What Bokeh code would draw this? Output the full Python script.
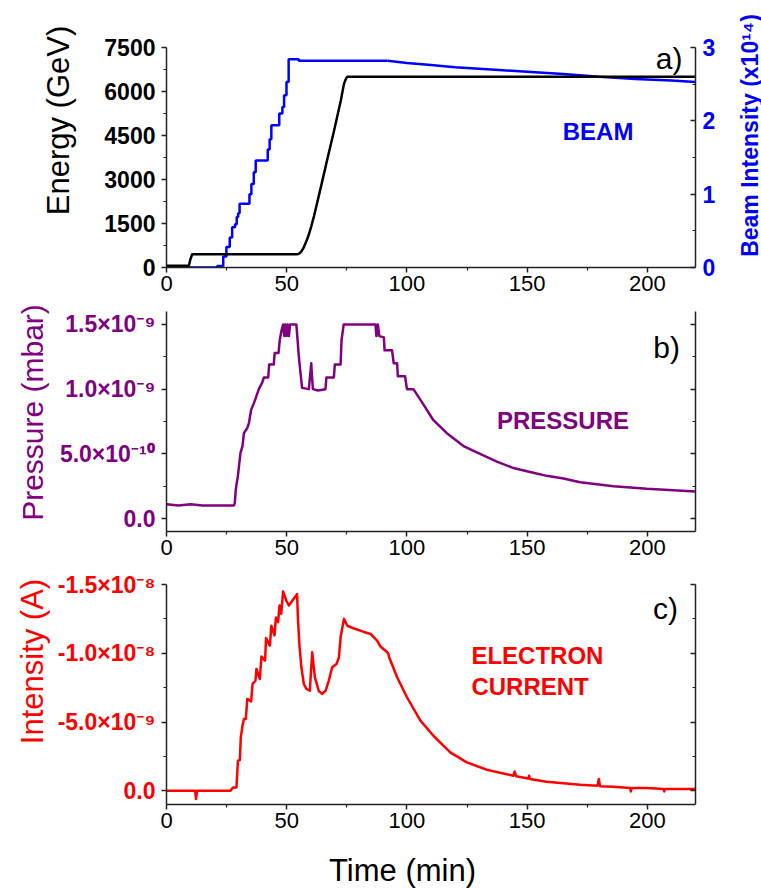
import math
from bokeh.plotting import figure
from bokeh.models import Range1d, LinearAxis, FixedTicker, CustomJSTickFormatter
from bokeh.layouts import column, row
from bokeh.embed import file_html
from bokeh.resources import INLINE
from bokeh.core.properties import value

# ---------------- data ----------------
time_ticks = [0, 50, 100, 150, 200]
time_minor = [25, 75, 125, 175]
time_tick_labels = ["0", "50", "100", "150", "200"]

energy_ticks = [0, 1500, 3000, 4500, 6000, 7500]
energy_minor = [750, 2250, 3750, 5250, 6750]
energy_tick_labels = ["0", "1500", "3000", "4500", "6000", "7500"]

beam_ticks = [0, 1, 2, 3]
beam_minor = [0.5, 1.5, 2.5]
beam_tick_labels = ["0", "1", "2", "3"]

# pressure in units of 1e-9 mbar
pressure_ticks = [0, 0.5, 1.0, 1.5]
pressure_minor = [0.25, 0.75, 1.25]
pressure_tick_labels = ["0.0", "5.0×10⁻¹⁰", "1.0×10⁻⁹", "1.5×10⁻⁹"]

# electron current in units of 1e-9 A
current_ticks = [0, -5, -10, -15]
current_minor = [-2.5, -7.5, -12.5]
current_tick_labels = ["0.0", "-5.0×10⁻⁹", "-1.0×10⁻⁸", "-1.5×10⁻⁸"]

# beam energy (GeV)
energy_t = [0, 9.3, 10.0, 10.7, 54.3, 55.3, 56.2, 57.1, 58.2, 59.3, 60.3, 61.4,
            64.2, 66.9, 69.7, 72.5, 73.8, 74.6, 75.2, 220]
energy_gev = [60, 60, 300, 450, 450, 480, 560, 690, 900, 1150, 1430, 1770,
              2740, 3700, 4670, 5690, 6260, 6430, 6500, 6500]

# beam intensity (x1e14) - injection staircase (value holds after each time)
beam_step_t = [0, 21.1, 23.6, 24.9, 26.3, 27.3, 28.5, 29.2, 29.8, 30.4, 34.5, 35.3,
               36.3, 37.1, 42.1, 42.9, 43.6, 46.9, 48.2, 48.9, 49.9, 50.8, 55.0, 92.0]
beam_step_i = [0.0, 0.02, 0.15, 0.28, 0.41, 0.55, 0.59, 0.69, 0.74, 0.87, 1.00, 1.14,
               1.30, 1.46, 1.61, 1.75, 1.94, 2.10, 2.19, 2.35, 2.53, 2.84, 2.82, 2.82]
# beam intensity (x1e14) - decay at flat top
beam_decay_t = [92, 100, 110, 120, 135, 150, 165, 180, 195, 210, 220]
beam_decay_i = [2.82, 2.79, 2.76, 2.73, 2.70, 2.67, 2.64, 2.60, 2.57, 2.55, 2.53]

pressure_t = [0, 5, 10, 15, 20, 28.0, 28.4, 28.8, 29.1, 29.7, 30.3, 30.8, 31.6, 32.2,
              33.6, 34.3, 35.2, 36.3, 37.1, 38.4, 39.8, 40.5, 42.3, 42.7, 44.6, 45.0,
              46.6, 47.1, 47.8, 48.5, 49.0, 49.4, 49.9, 50.4, 50.9, 51.4, 54.0, 54.6,
              55.0, 55.7, 56.4, 59.2, 59.7, 60.2, 60.5, 60.9, 63.0, 66.1, 66.5, 69.6,
              70.0, 72.4, 72.8, 73.7, 86.9, 87.3, 87.9, 88.5, 90.4, 90.7, 93.8, 94.5,
              95.9, 96.2, 99.2, 100.0, 102.7, 106.9, 111.0, 116.6, 123.5, 130.4, 137.4,
              144.3, 151.2, 158.1, 165.1, 172.0, 185.9, 199.8, 220]
pressure_e9 = [0.11, 0.10, 0.11, 0.10, 0.10, 0.10, 0.12, 0.22, 0.26, 0.33, 0.43, 0.51, 0.56, 0.66,
               0.70, 0.74, 0.84, 0.89, 0.93, 1.00, 1.05, 1.09, 1.09, 1.19, 1.19, 1.28,
               1.28, 1.38, 1.45, 1.50, 1.41, 1.50, 1.41, 1.50, 1.41, 1.50, 1.50, 1.36,
               1.26, 1.13, 1.01, 1.00, 1.10, 1.20, 1.10, 1.00, 0.99, 1.00, 1.09, 1.09,
               1.19, 1.19, 1.38, 1.50, 1.50, 1.41, 1.50, 1.41, 1.40, 1.30, 1.30, 1.20,
               1.20, 1.10, 1.10, 1.00, 1.00, 0.88, 0.76, 0.66, 0.56, 0.50, 0.44,
               0.39, 0.36, 0.33, 0.31, 0.28, 0.25, 0.23, 0.21]

current_t = [0, 11.9, 12.3, 12.7, 26.6, 27.3, 28.0, 29.1, 29.7, 30.5, 30.9, 31.6, 32.2,
             33.0, 33.6, 35.2, 35.8, 37.0, 37.4, 38.8, 39.5, 41.0, 41.4, 43.0, 43.6,
             44.9, 45.5, 46.4, 47.0, 47.7, 48.5, 49.9, 50.9, 52.9, 54.3, 54.7, 55.3,
             56.1, 57.1, 58.2, 59.6, 60.6, 61.7, 63.4, 64.8, 66.2, 67.5, 68.9, 70.7,
             71.7, 72.4, 73.8, 75.2, 78.0, 82.1, 84.9, 87.6, 89.0, 91.8, 92.3, 92.6,
             95.9, 100.0, 105.6, 111.0, 118.0, 124.9, 133.2, 144.3, 144.8, 145.4,
             150.5, 150.8, 151.2, 158.1, 172.0, 179.2, 179.8, 180.3, 185.9, 192.8,
             193.1, 193.5, 199.8, 206.7, 207.0, 207.3, 220]
current_e9 = [0, 0, 0.6, 0, 0, -0.17, -0.24, -0.24, -2.18, -2.23, -3.88, -4.73, -5.22,
              -5.22, -6.68, -6.5, -7.77, -8.0, -8.86, -8.13, -9.76, -9.47, -11.1, -10.56, -12.0,
              -11.3, -12.6, -12.26, -13.47, -12.87, -14.5, -13.8, -13.47, -13.96, -14.3, -12.4, -10.56,
              -8.98, -7.77, -7.4, -7.28, -10.07, -8.25, -7.23, -7.04, -7.28, -8.01, -8.98, -9.22,
              -9.7, -11.16, -12.5, -12.0, -11.8, -11.55, -11.4, -10.92, -10.49, -10.07, -9.95, -9.71,
              -8.25, -6.8, -5.1, -4.0, -2.79, -2.06, -1.53, -1.09, -1.4, -1.06,
              -0.89, -1.09, -0.85, -0.65, -0.44, -0.36, -0.85, -0.32, -0.29, -0.2,
              0.05, -0.2, -0.2, -0.12, 0.05, -0.12, -0.12]

# ---------------- styling helpers ----------------
FONT = "Liberation Sans, Noto Sans"
AXIS_COLOR = "#222222"
BLUE = "#0000ff"
PURPLE = "#800080"
RED = "#ff0000"

FRAME_W = 529
AXIS_H = 220          # pixel length of each drawn y axis


def lookup_formatter(vals, labs):
    return CustomJSTickFormatter(args=dict(vals=vals, labs=labs), code="""
        for (let i = 0; i < vals.length; i++) {
            if (Math.abs(vals[i] - tick) < 1e-6) { return labs[i]; }
        }
        return '';
    """)


def style_axis(ax, ticks, minor, labels, color, bold, size, tick_in=0, tick_out=5,
               minor_in=0, minor_out=3, standoff=6, bounds=None):
    ax.ticker = FixedTicker(ticks=ticks, minor_ticks=minor)
    ax.formatter = lookup_formatter(ticks, labels)
    if bounds is not None:
        ax.bounds = bounds
    ax.axis_line_color = AXIS_COLOR
    ax.axis_line_width = 1.5
    ax.major_tick_line_color = AXIS_COLOR
    ax.major_tick_line_width = 1.5
    ax.minor_tick_line_color = AXIS_COLOR
    ax.minor_tick_line_width = 1.2
    ax.major_tick_in = tick_in
    ax.major_tick_out = tick_out
    ax.minor_tick_in = minor_in
    ax.minor_tick_out = minor_out
    ax.major_label_standoff = standoff
    ax.major_label_text_font = FONT
    ax.major_label_text_font_size = size
    ax.major_label_text_font_style = "bold" if bold else "normal"
    ax.major_label_text_color = color


def make_fig(y_range, frame_h, left, right, bottom):
    p = figure(frame_width=FRAME_W, frame_height=frame_h,
               x_range=Range1d(0, 220), y_range=y_range,
               output_backend="svg", toolbar_location=None,
               min_border_left=left, min_border_right=right,
               min_border_top=0, min_border_bottom=bottom)
    p.outline_line_color = None
    p.xgrid.visible = False
    p.ygrid.visible = False
    p.background_fill_color = "white"
    p.border_fill_color = "white"
    style_axis(p.xaxis[0], time_ticks, time_minor, time_tick_labels, "black", False, "22px",
               tick_out=5, minor_out=3, standoff=3)
    return p


def text_panel(width, frame_h, bottom=0):
    """A blank figure whose data units equal pixels (y measured from the
    frame bottom), used to hold the free-standing axis titles."""
    p = figure(frame_width=width, frame_height=frame_h,
               x_range=Range1d(0, width), y_range=Range1d(0, frame_h),
               output_backend="svg", toolbar_location=None, title=None,
               x_axis_location=None, y_axis_location=None,
               min_border_left=0, min_border_right=0, min_border_top=0, min_border_bottom=bottom)
    p.outline_line_color = None
    p.xgrid.visible = False
    p.ygrid.visible = False
    p.background_fill_color = "white"
    p.border_fill_color = "white"
    return p


def add_text(p, x, y, text, color, size, bold=False, angle=0.0, align="center", y_range_name="default"):
    p.text(x=[x], y=[y], text=[text], angle=angle, text_color=color,
           text_font=value(FONT), text_font_size=value(size),
           text_font_style="bold" if bold else "normal",
           text_align=align, text_baseline="middle", y_range_name=y_range_name)


def mirror_axis(p, ticks, minor, bounds):
    ax = LinearAxis()
    style_axis(ax, ticks, minor, ["" for _ in ticks], None, False, "10px",
               tick_in=5, tick_out=0, minor_in=3, minor_out=0, standoff=2, bounds=bounds)
    ax.major_label_text_color = None
    p.add_layout(ax, "right")

# ---------------- panel a ----------------
# the frame starts at the very top of the row; the y axes are bounded to the data span
A_GAP, A_BOTTOM = 47, 34
A_FH = A_GAP + AXIS_H
E_LO, E_HI = 0, 7500
B_LO, B_HI = 0, 3
pa = make_fig(Range1d(E_LO, E_HI * A_FH / AXIS_H), A_FH, left=86, right=30, bottom=A_BOTTOM)
pa.extra_y_ranges = {"beam": Range1d(B_LO, B_HI * A_FH / AXIS_H)}
style_axis(pa.yaxis[0], energy_ticks, energy_minor, energy_tick_labels, "black", True, "23px",
           bounds=(E_LO, E_HI))
ax_beam = LinearAxis(y_range_name="beam")
style_axis(ax_beam, beam_ticks, beam_minor, beam_tick_labels, BLUE, True, "23px",
           tick_in=5, tick_out=0, minor_in=3, minor_out=0, standoff=7, bounds=(B_LO, B_HI))
pa.add_layout(ax_beam, "right")

pa.step(beam_step_t, beam_step_i, mode="after", line_color=BLUE, line_width=2.5,
        y_range_name="beam")
pa.line(beam_decay_t, beam_decay_i, line_color=BLUE, line_width=2.5, y_range_name="beam")
pa.line(energy_t, energy_gev, line_color="black", line_width=2.5, line_join="round")
add_text(pa, 209, 7142, "a)", "black", "30px")
add_text(pa, 179.5, 4636, "BEAM", BLUE, "24px", bold=True)

la = text_panel(80, A_FH, A_BOTTOM)
add_text(la, 58, A_FH - 120, "Energy (GeV)", "black", "31px", angle=math.pi / 2)
ra = text_panel(36, A_FH, A_BOTTOM)
add_text(ra, 24, A_FH - 135, "Beam Intensity (x10¹⁴)", BLUE, "23px", bold=True, angle=math.pi / 2)

ROW_A = A_FH + A_BOTTOM          # 301

# ---------------- panel b ----------------
B_GAP, B_BOTTOM = 10, 40
B_FH = B_GAP + AXIS_H
P_LO, P_HI = -0.1, 1.6
pb = make_fig(Range1d(P_LO, P_LO + (P_HI - P_LO) * B_FH / AXIS_H), B_FH, left=116, right=66,
              bottom=B_BOTTOM)
style_axis(pb.yaxis[0], pressure_ticks, pressure_minor, pressure_tick_labels, PURPLE, True, "23px",
           bounds=(P_LO, P_HI))
mirror_axis(pb, pressure_ticks, pressure_minor, (P_LO, P_HI))
pb.line(pressure_t, pressure_e9, line_color=PURPLE, line_width=2.5, line_join="round")
add_text(pb, 208, 1.32, "b)", "black", "30px")
add_text(pb, 164.9, 0.758, "PRESSURE", PURPLE, "24px", bold=True)

lb = text_panel(50, B_FH, B_BOTTOM)
add_text(lb, 32, B_FH - (412 - ROW_A), "Pressure (mbar)", PURPLE, "30px", angle=math.pi / 2)

ROW_B = ROW_A + B_FH + B_BOTTOM  # 571

# ---------------- panel c ----------------
C_GAP, C_BOTTOM = 13, 44
C_FH = C_GAP + AXIS_H
I_LO, I_HI = 1, -15              # axis runs downward (negative values on top)
pc = make_fig(Range1d(I_LO, I_LO + (I_HI - I_LO) * C_FH / AXIS_H), C_FH, left=116, right=66,
              bottom=C_BOTTOM)
style_axis(pc.yaxis[0], current_ticks, current_minor, current_tick_labels, RED, True, "23px",
           bounds=(I_HI, I_LO))
mirror_axis(pc, current_ticks, current_minor, (I_HI, I_LO))
pc.line(current_t, current_e9, line_color=RED, line_width=2.5, line_join="round")
add_text(pc, 207.5, -13.29, "c)", "black", "30px")
add_text(pc, 126.8, -9.84, "ELECTRON", RED, "24px", bold=True, align="left")
add_text(pc, 126.8, -7.55, "CURRENT", RED, "24px", bold=True, align="left")

lc = text_panel(50, C_FH, C_BOTTOM)
add_text(lc, 32, C_FH - (661 - ROW_B), "Intensity (A)", RED, "31px", angle=math.pi / 2)

ROW_C = ROW_B + C_FH + C_BOTTOM  # 848

# ---------------- bottom axis title ----------------
T_H = 888 - ROW_C
tb = text_panel(761, T_H)
add_text(tb, 402, T_H - (870 - ROW_C), "Time (min)", "black", "31px")

layout = column(
    row(la, pa, ra, spacing=0),
    row(lb, pb, spacing=0),
    row(lc, pc, spacing=0),
    tb,
    spacing=0,
)
open("out.html", "w").write(file_html(layout, INLINE))
